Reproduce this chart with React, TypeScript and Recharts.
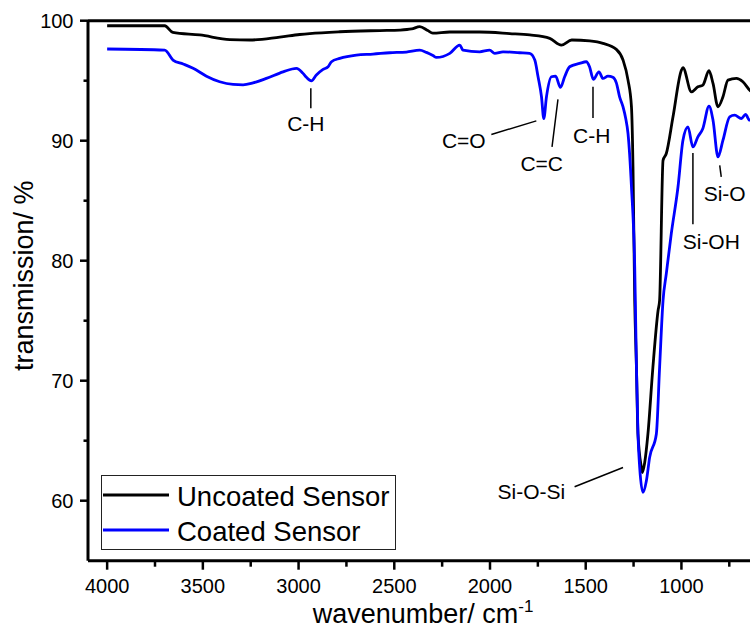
import { LineChart, Line, XAxis, YAxis, ReferenceLine, ReferenceDot, Legend } from "recharts";

const FONT = '"Liberation Sans", Arial, sans-serif';

const seriesNames = ["Uncoated Sensor", "Coated Sensor"];

// Uncoated sensor spectrum (wavenumber / cm-1, transmission %)
const uncoatedWavenumber = [
  4000, 3699, 3657, 3516, 3359, 3255, 3098, 2994, 2942, 2785, 2576, 2471, 2409, 2367, 2325, 2299, 2210, 2054,
  1897, 1792, 1688, 1627, 1573, 1479, 1410, 1340, 1305, 1279, 1261, 1253, 1244, 1235, 1227, 1209, 1204, 1192,
  1175, 1149, 1122, 1114, 1096, 1079, 1044, 1000, 992, 948, 914, 888, 856, 835, 809, 783, 757, 713, 679, 644, 620,
];
const uncoatedTransmission = [
  99.58, 99.58, 99.03, 98.81, 98.43, 98.39, 98.64, 98.85, 98.93, 99.08, 99.18, 99.22, 99.31, 99.5, 99.18, 98.97,
  99.06, 99.06, 98.93, 98.81, 98.53, 97.97, 98.39, 98.31, 98.11, 97.61, 96.72, 95.05, 92.82, 87.81, 76.69, 71.12,
  65.56, 62.77, 62.35, 63.16, 65.56, 71.12, 75.85, 76.69, 88.36, 88.93, 91.99, 95.88, 96.08, 94.07, 94.49, 94.63,
  95.83, 94.77, 92.82, 93.66, 95.05, 95.19, 94.91, 94.22, 93.9,
];

// Coated sensor spectrum
const coatedWavenumber = [
  4000, 3699, 3656, 3603, 3551, 3481, 3412, 3342, 3290, 3238, 3168, 3081, 3011, 2978, 2959, 2933, 2907, 2872,
  2846, 2828, 2785, 2698, 2611, 2524, 2437, 2367, 2332, 2298, 2280, 2210, 2158, 2141, 2054, 2002, 1975, 1932,
  1845, 1793, 1766, 1749, 1731, 1719, 1705, 1679, 1657, 1632, 1610, 1584, 1532, 1497, 1480, 1460, 1431, 1410,
  1384, 1358, 1340, 1323, 1305, 1291, 1279, 1261, 1244, 1235, 1227, 1218, 1201, 1183, 1166, 1131, 1114, 1096,
  1079, 1053, 1018, 992, 966, 940, 914, 888, 856, 835, 809, 783, 748, 722, 687, 665, 644, 620,
];
const coatedTransmission = [
  97.64, 97.55, 96.72, 96.39, 96.03, 95.38, 94.91, 94.69, 94.66, 94.82, 95.19, 95.74, 96.03, 95.63, 95.28, 94.99,
  95.47, 95.94, 96.16, 96.58, 96.86, 97.14, 97.22, 97.33, 97.39, 97.55, 97.36, 97.1, 96.94, 97.28, 97.97, 97.55,
  97.41, 97.55, 97.28, 97.41, 97.33, 97.28, 96.72, 95.33, 93.66, 91.85, 93.66, 95.33, 95.38, 94.44, 95.33, 96.16,
  96.44, 96.58, 96.16, 95.11, 95.74, 95.19, 95.38, 95.28, 94.82, 93.66, 92.82, 91.85, 90.6, 86.14, 79.47, 71.12,
  65.56, 62.77, 60.69, 61.66, 63.61, 65.56, 71.12, 76.69, 78.92, 82.25, 86.14, 90.04, 91.15, 89.48, 90.32, 91.02,
  92.88, 91.71, 88.65, 90.04, 91.99, 92.13, 91.85, 92.19, 91.71, 91.8,
];

const xTicks = [750, 1000, 1250, 1500, 1750, 2000, 2250, 2500, 2750, 3000, 3250, 3500, 3750, 4000];
const yTicks = [60, 65, 70, 75, 80, 85, 90, 95, 100];

// peak annotations (data coordinates)
const peakNames = ["C-H", "C=O", "C=C", "C-H", "Si-OH", "Si-O", "Si-O-Si"];
const peakTextX = [2962, 2137, 1730, 1469, 844, 774, 1784];
const peakTextY = [91.46, 90.0, 88.12, 90.46, 81.61, 85.62, 60.74];
const peakLineFrom = [[2936, 94.38], [1993, 90.52], [1676, 89.48], [1462, 94.49], [940, 88.98], [800, 87.95], [1558, 61.16]];
const peakLineTo = [[2936, 92.71], [1758, 91.65], [1645, 93.44], [1462, 91.9], [940, 83.03], [792, 86.98], [1305, 62.77]];

const uncoated = uncoatedWavenumber.map((x, i) => ({ x, y: uncoatedTransmission[i] }));
const coated = coatedWavenumber.map((x, i) => ({ x, y: coatedTransmission[i] }));

const XTick = (props: any) => {
  const { x, y, payload } = props;
  const major = payload.value % 500 === 0;
  return (
    <g>
      <line x1={x} x2={x} y1={y} y2={y + (major ? 9 : 6)} stroke="#000" strokeWidth={2.5} />
      {major && (
        <text x={x} y={y + 32} textAnchor="middle" fontSize={20} fontFamily={FONT} fill="#000">
          {payload.value}
        </text>
      )}
    </g>
  );
};

const YTick = (props: any) => {
  const { x, y, payload } = props;
  const major = payload.value % 10 === 0;
  return (
    <g>
      <line x1={x} x2={x - (major ? 8 : 4.5)} y1={y} y2={y} stroke="#000" strokeWidth={2.5} />
      {major && (
        <text x={x - 14.5} y={y + 7} textAnchor="end" fontSize={20} fontFamily={FONT} fill="#000">
          {payload.value}
        </text>
      )}
    </g>
  );
};

const renderLegend = (props: any) => {
  const items = [...(props.payload || [])].sort(
    (a: any, b: any) => seriesNames.indexOf(a.value) - seriesNames.indexOf(b.value)
  );
  return (
    <svg width={296} height={76} style={{ display: "block" }}>
      <rect x={0.5} y={0.5} width={294} height={74} fill="#fff" stroke="#222" strokeWidth={1} />
      {items.map((entry: any, i: number) => (
        <g key={entry.value}>
          <line x1={2} x2={68} y1={20 + i * 35} y2={20 + i * 35} stroke={entry.color} strokeWidth={3} />
          <text x={76} y={30.5 + i * 35} fontSize={27.5} fontFamily={FONT} fill="#000">
            {entry.value}
          </text>
        </g>
      ))}
    </svg>
  );
};

export default function App() {
  return (
    <div
      style={{
        position: "absolute",
        left: 0,
        top: 0,
        width: 750,
        height: 628,
        overflow: "hidden",
        background: "#fff",
        fontFamily: FONT,
      }}
    >
      <LineChart width={770} height={628} margin={{ top: 20.7, right: 12, bottom: 7.3, left: 0 }}>
        <XAxis
          dataKey="x"
          type="number"
          domain={[600, 4100]}
          reversed
          ticks={xTicks}
          interval={0}
          height={60}
          tickSize={0}
          tickMargin={0}
          tickLine={false}
          tick={<XTick />}
          axisLine={{ stroke: "#000", strokeWidth: 3 }}
          allowDataOverflow
          label={(p: any) => {
            const vb = p.viewBox;
            return (
              <text x={vb.x + vb.width / 2} y={vb.y + 62.5} textAnchor="middle" fontSize={27} fontFamily={FONT} fill="#000">
                <tspan>wavenumber/ cm</tspan>
                <tspan dy={-11} fontSize={17}>-1</tspan>
              </text>
            );
          }}
        />
        <YAxis
          type="number"
          domain={[55, 100]}
          ticks={yTicks}
          interval={0}
          width={88}
          tickSize={0}
          tickMargin={0}
          tickLine={false}
          tick={<YTick />}
          axisLine={{ stroke: "#000", strokeWidth: 3 }}
          allowDataOverflow
          label={(p: any) => {
            const vb = p.viewBox;
            const cx = vb.x + 33.5;
            const cy = vb.y + vb.height / 2 - 15;
            return (
              <text x={cx} y={cy} transform={`rotate(-90, ${cx}, ${cy})`} textAnchor="middle" fontSize={27} fontFamily={FONT} fill="#000">
                transmission/ %
              </text>
            );
          }}
        />
        <ReferenceLine y={100} stroke="#000" strokeWidth={3} />
        <Line
          data={uncoated}
          dataKey="y"
          name={seriesNames[0]}
          type="monotone"
          stroke="#000000"
          strokeWidth={2.8}
          dot={false}
          activeDot={false}
          isAnimationActive={false}
        />
        <Line
          data={coated}
          dataKey="y"
          name={seriesNames[1]}
          type="monotone"
          stroke="#0000ff"
          strokeWidth={2.8}
          dot={false}
          activeDot={false}
          isAnimationActive={false}
        />
        {peakLineFrom.map((from, i) => (
          <ReferenceLine
            key={"pl" + i}
            segment={[
              { x: from[0], y: from[1] },
              { x: peakLineTo[i][0], y: peakLineTo[i][1] },
            ]}
            stroke="#000"
            strokeWidth={1.5}
          />
        ))}
        {peakNames.map((name, i) => (
          <ReferenceDot
            key={"pt" + i}
            x={peakTextX[i]}
            y={peakTextY[i]}
            r={0}
            fill="none"
            stroke="none"
            label={{ value: name, position: "center", fontSize: 21, fontFamily: FONT, fill: "#000" }}
          />
        ))}
        <Legend
          layout="vertical"
          align="center"
          verticalAlign="middle"
          content={renderLegend}
          wrapperStyle={{ left: 101, top: 475, width: 296, height: 76 }}
        />
      </LineChart>
    </div>
  );
}
